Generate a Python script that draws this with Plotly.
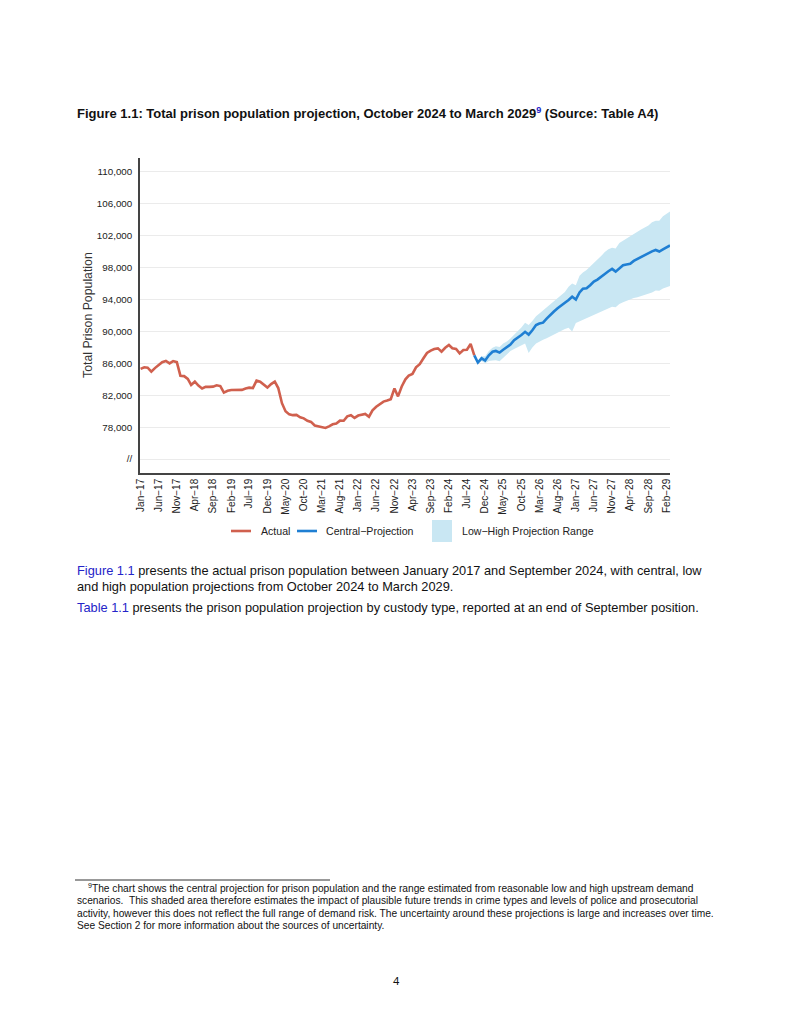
import plotly.graph_objects as go
import pandas as pd

# ---- data ----
# Actual monthly prison population, Jan 2017 - Sep 2024
actual = [85300, 85500, 85450, 84950, 85400, 85800, 86150, 86300, 86000, 86280,
          86150, 84450, 84400, 84050, 83300, 83700, 83200, 82850, 83050, 83050,
          83080, 83250, 83150, 82330, 82550, 82650, 82660, 82650, 82670, 82850,
          82950, 82900, 83830, 83700, 83300, 82960, 83400, 83700, 82900, 81000,
          80000, 79600, 79500, 79530, 79240, 79100, 78800, 78650, 78200, 78100,
          78050, 77900, 78100, 78350, 78450, 78810, 78800, 79350, 79500, 79150,
          79450, 79600, 79650, 79300, 80100, 80550, 80900, 81200, 81330, 81500,
          82850, 81850, 83100, 84000, 84450, 84670, 85500, 85900, 86600, 87300,
          87600, 87800, 87880, 87460, 87950, 88300, 87900, 87800, 87250, 87670,
          87700, 88430, 87000]
# Central projection, Oct 2024 - Mar 2029
central = [86100, 86630, 86350, 87000, 87450, 87550, 87350, 87700, 88000, 88350,
           88900, 89200, 89550, 89950, 89600, 90150, 90800, 91000, 91100, 91600,
           92100, 92500, 92900, 93200, 93600, 93950, 94350, 94000, 94900, 95350,
           95420, 95800, 96250, 96500, 96800, 97200, 97550, 97840, 97500, 97850,
           98300, 98400, 98480, 98850, 99100, 99350, 99600, 99800, 100050, 100220,
           100020, 100300, 100550, 100780]
# Low and high projections, Oct 2024 - Mar 2029
low = [86000, 86300, 86000, 86300, 86350, 86400, 86250, 86700, 87150, 87550,
       87800, 88050, 88250, 88500, 87300, 88000, 88500, 88750, 88950, 89150,
       89400, 89650, 89900, 90100, 90300, 90450, 90000, 91050, 91250, 91450,
       91650, 91850, 92050, 92300, 92500, 92700, 92900, 93100, 93050, 93450,
       93650, 93850, 94050, 94200, 94300, 94450, 94550, 94700, 94900, 95150,
       95100, 95400, 95550, 95700]
high = [86250, 86900, 86900, 87550, 87950, 88150, 88050, 88500, 88750, 89100,
        89600, 90000, 90500, 91100, 90800, 91300, 91900, 92250, 92600, 92950,
        93400, 93800, 94200, 94600, 94950, 95600, 96000, 95800, 97000, 97400,
        97700, 98150, 98550, 99000, 99450, 99950, 100300, 100500, 100400, 101100,
        101400, 101700, 102000, 102300, 102600, 102800, 103050, 103300, 103700, 103900,
        103900, 104450, 104750, 105050]

actual_start = "2017-01-01"
projection_start = "2024-10-01"
x_tick_labels = ["Jan−17", "Jun−17", "Nov−17", "Apr−18", "Sep−18", "Feb−19", "Jul−19",
                 "Dec−19", "May−20", "Oct−20", "Mar−21", "Aug−21", "Jan−22", "Jun−22",
                 "Nov−22", "Apr−23", "Sep−23", "Feb−24", "Jul−24", "Dec−24", "May−25",
                 "Oct−25", "Mar−26", "Aug−26", "Jan−27", "Jun−27", "Nov−27", "Apr−28",
                 "Sep−28", "Feb−29"]
y_tick_values = [74000, 78000, 82000, 86000, 90000, 94000, 98000, 102000, 106000, 110000]
y_tick_labels = ["//", "78,000", "82,000", "86,000", "90,000", "94,000", "98,000",
                 "102,000", "106,000", "110,000"]

# ---- derived ----
x_actual = pd.date_range(actual_start, periods=len(actual), freq="MS")
x_proj = pd.date_range(projection_start, periods=len(central), freq="MS")
x_central = [x_actual[-1]] + list(x_proj)
y_central = [actual[-1]] + central
x_ticks = pd.date_range(actual_start, periods=len(x_tick_labels), freq="5MS")

RED = "#D0604E"
BLUE = "#1F7FD3"
BAND = "#C9E7F3"
FONT = "Liberation Sans"

OFF = 8  # page body margin of the browser
W, H = 791, 1023
L, R, T, B = 140 - OFF, 670 - OFF, 158 - OFF, 473 - OFF


def px(x):
    return (x - OFF - L) / (R - L)


def py(y):
    return (B - (y - OFF)) / (B - T)


fig = go.Figure()
fig.add_trace(go.Scatter(x=x_proj, y=low, mode="lines", line=dict(width=0, color=BAND),
                         hoverinfo="skip", showlegend=False))
fig.add_trace(go.Scatter(x=x_proj, y=high, mode="lines", line=dict(width=0, color=BAND),
                         fill="tonexty", fillcolor=BAND, name="Low−High Projection Range",
                         showlegend=False))
fig.add_trace(go.Scatter(x=x_actual, y=actual, mode="lines", line=dict(color=RED, width=2.6),
                         name="Actual", showlegend=False))
fig.add_trace(go.Scatter(x=x_central, y=y_central, mode="lines", line=dict(color=BLUE, width=2.6),
                         name="Central−Projection", showlegend=False))

fig.update_layout(
    width=W - OFF, height=H - OFF,
    margin=dict(l=L, r=W - OFF - R, t=T, b=H - OFF - B, pad=0),
    paper_bgcolor="white", plot_bgcolor="white",
    font=dict(family=FONT, color="#222222"),
)
fig.update_xaxes(
    type="date", range=["2016-12-27", "2029-03-01"],
    tickvals=x_ticks, ticktext=x_tick_labels, tickangle=-90,
    tickfont=dict(size=10, color="#222222"), ticks="",
    showgrid=False, zeroline=False,
    showline=True, linecolor="#444444", linewidth=1.6,
)
fig.update_yaxes(
    range=[72245, 111755], tickvals=y_tick_values, ticktext=y_tick_labels,
    tickfont=dict(size=9.8, color="#222222"), ticks="", ticklabelstandoff=4,
    showgrid=True, gridcolor="#EBEBEB", gridwidth=1, zeroline=False,
    showline=True, linecolor="#444444", linewidth=1.6,
)

ann = []


def text(x, y, s, size, color="#111111", xanchor="left", angle=0):
    ann.append(dict(xref="paper", yref="paper", x=px(x), y=py(y), text=s, showarrow=False,
                    xanchor=xanchor, yanchor="middle", textangle=angle,
                    font=dict(family=FONT, size=size, color=color)))


LINK = "#2424C8"
text(75, 113, "<b>Figure 1.1: Total prison population projection, October 2024 to March 2029"
     f"<sup><span style='color:{LINK}'>9</span></sup> (Source: Table A4)</b>", 13)
text(88, 315, "Total Prison Population", 12.3, color="#333333", xanchor="center", angle=-90)

# legend
text(259, 531, "Actual", 10.6, color="#222222")
text(324, 531, "Central−Projection", 10.6, color="#222222")
text(460, 531, "Low−High Projection Range", 10.6, color="#222222")

# body
text(75, 570, f"<span style='color:{LINK}'>Figure 1.1</span> presents the actual prison population "
     "between January 2017 and September 2024, with central, low", 12.8)
text(75, 586, "and high population projections from October 2024 to March 2029.", 12.8)
text(75, 607, f"<span style='color:{LINK}'>Table 1.1</span> presents the prison population projection "
     "by custody type, reported at an end of September position.", 12.8)

# footnote
text(86, 888, "<sup>9</sup>The chart shows the central projection for prison population and the "
     "range estimated from reasonable low and high upstream demand", 10.2)
text(75, 900, "scenarios.  This shaded area therefore estimates the impact of plausible future "
     "trends in crime types and levels of police and prosecutorial", 10.2)
text(75, 913, "activity, however this does not reflect the full range of demand risk. The "
     "uncertainty around these projections is large and increases over time.", 10.2)
text(75, 925, "See Section 2 for more information about the sources of uncertainty.", 10.2)
text(396, 981, "4", 11.5, xanchor="center")

shapes = [
    dict(type="line", xref="paper", yref="paper", x0=px(231), x1=px(251), y0=py(531), y1=py(531),
         line=dict(color=RED, width=2.6)),
    dict(type="line", xref="paper", yref="paper", x0=px(297), x1=px(317), y0=py(531), y1=py(531),
         line=dict(color=BLUE, width=2.6)),
    dict(type="rect", xref="paper", yref="paper", x0=px(432), x1=px(452), y0=py(520), y1=py(542),
         line=dict(width=0), fillcolor=BAND),
    dict(type="line", xref="paper", yref="paper", x0=px(75), x1=px(330), y0=py(880), y1=py(880),
         line=dict(color="#333333", width=1)),
]
fig.update_layout(annotations=ann, shapes=shapes)

fig.write_html("out.html")
